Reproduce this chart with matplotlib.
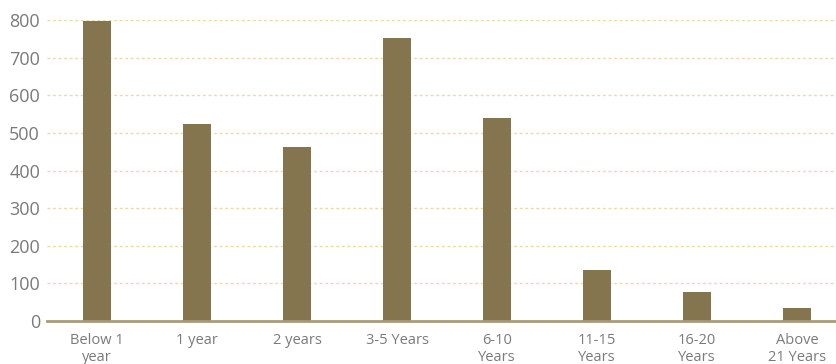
import matplotlib.pyplot as plt
import numpy as np

categories = ['Below 1\nyear', '1 year', '2 years', '3-5 Years', '6-10\nYears',
              '11-15\nYears', '16-20\nYears', 'Above\n21 Years']
values = [797, 524, 463, 753, 540, 136, 77, 35]
y_ticks = [0, 100, 200, 300, 400, 500, 600, 700, 800]

plt.rcParams['font.family'] = ['Open Sans', 'DejaVu Sans']

fig = plt.figure(figsize=(8.36, 3.64), dpi=100)
ax = fig.add_axes([47 / 836, 43 / 364, 789 / 836, 301 / 364])

x = np.arange(len(categories))
ax.bar(x, values, width=0.28, color='#85754e', zorder=3)

ax.set_xlim(-0.5, 7.39)
ax.set_ylim(0, 800)
ax.set_yticks(y_ticks)
ax.set_xticks(x)
ax.set_xticklabels(categories, fontsize=10.5, color='#7a7a7a', linespacing=1.1)
ax.tick_params(axis='y', labelsize=13, colors='#7a7a7a', length=0, pad=5)
ax.tick_params(axis='x', length=0, pad=9)

ax.yaxis.grid(True, color='#f3d6a4', linestyle=(0, (2, 2)), linewidth=1, zorder=0)
for side in ['top', 'right', 'left']:
    ax.spines[side].set_visible(False)
ax.spines['bottom'].set_color('#a99b7a')
ax.spines['bottom'].set_linewidth(2)
ax.spines['bottom'].set_zorder(4)

fig.savefig('out.png', dpi=100)
